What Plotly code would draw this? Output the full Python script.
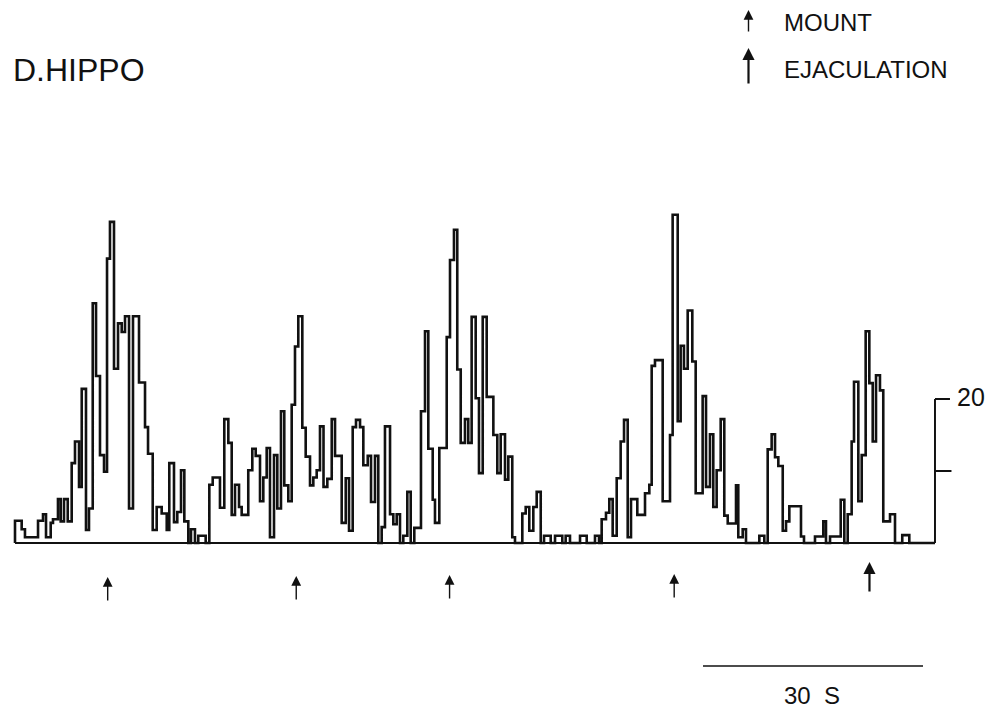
import plotly.graph_objects as go

# ---------------- data ----------------
# left edges (s) of each step of the rate histogram and its height (counts, scale bar = 20)
edges_s = [
    0.00, 0.91, 1.36, 3.14, 3.82, 4.23, 4.87, 5.18, 5.86, 6.23,
    6.68, 7.19, 7.73, 8.18, 8.73, 9.10, 9.68, 10.09, 10.60, 11.05,
    11.59, 12.14, 12.55, 12.95, 13.50, 14.05, 14.55, 15.00, 15.55, 16.09,
    16.91, 17.73, 18.14, 18.78, 19.32, 20.00,
    20.69, 21.04, 21.68, 22.13, 22.64, 23.09, 23.63, 24.00, 24.54, 24.99,
    26.00, 26.50, 26.96, 27.95, 28.54, 29.09, 29.55, 30.00, 30.55, 30.91,
    31.81, 32.36, 32.82, 33.41, 33.86, 34.32, 34.77, 35.32, 35.77, 36.27,
    36.72, 37.27, 37.73, 38.18, 38.63, 39.18, 39.64, 40.23, 40.68, 41.14,
    41.59,
    42.07, 42.59, 43.19, 43.64, 44.55, 45.10, 45.55, 46.05, 46.50, 47.05,
    47.50, 48.10, 48.55, 49.09, 49.54, 50.00, 50.45, 51.14, 51.59, 52.05,
    52.50, 52.95, 53.50, 53.96, 54.45, 55.36, 55.91, 56.36, 56.96, 57.27,
    57.86, 58.87, 59.32, 59.86, 60.31, 60.78, 61.36, 61.81, 62.27, 62.82,
    63.27, 63.78, 64.32, 65.23, 65.77, 66.23, 66.82, 67.27, 67.81, 68.18,
    69.18, 69.64, 70.13, 70.68, 71.14, 71.69, 72.14, 73.05, 73.64, 74.63,
    75.09, 75.68, 77.05, 77.96, 79.09, 79.64, 80.00, 80.59, 81.04, 81.50,
    82.05, 82.59, 83.05, 83.55,
    84.00, 84.86, 85.91, 86.50, 86.82, 87.27, 88.32, 89.32, 89.68, 90.37,
    90.77, 91.22, 91.73, 92.36, 92.82, 93.77, 94.23, 94.77, 95.22, 95.68,
    96.23, 96.72, 97.19, 98.32, 98.63, 99.23, 99.68, 101.50, 102.18, 102.64,
    103.18, 103.64, 104.09,
    104.69, 105.14, 105.59, 107.18, 107.59, 109.09, 110.22, 110.59, 111.14, 112.60,
    113.09, 113.55, 114.09, 114.41, 115.00, 115.46, 116.00, 116.50, 116.96, 117.41,
    117.95, 118.40, 119.32, 120.00, 120.99, 121.95,
]
rate = [
    3.1, 1.9, 0.8, 3.1, 4.0, 0.8, 2.8, 3.3, 6.1, 3.0,
    6.1, 3.0, 11.1, 14.1, 7.8, 21.4, 1.8, 4.8, 33.3, 23.2,
    12.2, 9.9, 39.5, 44.6, 24.2, 30.5, 29.3, 31.5, 4.8, 31.5,
    22.3, 16.1, 12.4, 1.8, 5.0, 4.1,
    1.8, 11.1, 2.9, 4.3, 10.1, 3.0, 0, 1.9, 0, 1.0,
    0, 8.1, 9.1, 4.9, 17.2, 13.9, 3.9, 8.1, 5.0, 3.9,
    10.1, 13.1, 12.1, 5.8, 9.1, 13.2, 0.8, 12.2, 4.8, 18.3,
    8.0, 5.8, 19.2, 27.3, 31.5, 16.0, 12.0, 8.0, 9.1, 10.1,
    16.2,
    7.8, 8.9, 17.2, 12.1, 2.8, 9.0, 1.7, 16.1, 17.1, 16.1,
    10.8, 12.1, 5.7, 12.1, 0, 2.2, 16.2, 4.0, 2.6, 4.0,
    0, 1.0, 7.1, 0, 2.1, 18.3, 29.4, 13.1, 6.0, 2.8,
    13.2, 28.6, 39.3, 43.5, 24.1, 13.9, 17.2, 13.9, 31.4, 20.1,
    9.7, 31.4, 20.3, 15.0, 9.7, 15.1, 8.8, 12.0, 0.8, 0,
    4.1, 5.0, 1.7, 5.0, 7.1, 0, 1.0, 0, 1.0, 0,
    1.0, 0, 1.0, 0, 1.0, 0, 3.3, 4.2, 6.1, 1.0,
    9.0, 14.1, 17.1, 0.8,
    6.1, 3.9, 6.9, 8.1, 24.6, 25.4, 5.8, 15.0, 45.6, 16.9,
    27.4, 24.2, 32.3, 25.2, 6.9, 20.4, 7.8, 15.1, 5.0, 10.1,
    17.2, 3.8, 2.7, 8.0, 0.8, 1.9, 0, 1.0, 0, 13.0,
    15.1, 11.9, 10.7,
    1.7, 3.0, 5.1, 0.9, 0, 0.9, 3.0, 0, 0.9, 6.0,
    0, 4.0, 14.1, 22.4, 5.8, 12.2, 29.4, 22.2, 14.1, 23.3,
    21.2, 3.0, 4.0, 0, 1.1, 0,
]
record_end_s = 125.45
mount_s = [12.64, 38.35, 59.26, 89.89]
ejaculation_s = [116.52]
scale_counts = 20
scale_time_s = 30
scale_time_start_s = 93.82

n = min(len(edges_s), len(rate))

# ---------------- geometry helpers (layout only) ----------------
W, H = 990, 712
PX_PER_S = 220 / 30.0
X0_PX = 15.0
BASE_PX = 543.0
PX_PER_COUNT = 7.2

def v_of_px(py):
    return (BASE_PX - py) / PX_PER_COUNT

def t_of_px(px):
    return (px - X0_PX) / PX_PER_S

x_range = [t_of_px(0), t_of_px(W)]
y_range = [v_of_px(H), v_of_px(0)]

# ---------------- build step outline ----------------
xs, ys = [edges_s[0]], [0]
for i in range(n):
    x0 = edges_s[i]
    x1 = edges_s[i + 1] if i + 1 < n else record_end_s
    xs += [x0, x1]
    ys += [rate[i], rate[i]]
xs.append(record_end_s)
ys.append(0)

INK = "#111111"
fig = go.Figure()
fig.add_trace(go.Scatter(x=[0, record_end_s], y=[0, 0], mode="lines",
                         line=dict(color=INK, width=2.2), hoverinfo="skip"))
fig.add_trace(go.Scatter(x=xs, y=ys, mode="lines",
                         line=dict(color=INK, width=2.6), hoverinfo="skip"))

# vertical scale bar (counts)
sb_x = record_end_s
tick_len = t_of_px(950) - t_of_px(935)
fig.add_trace(go.Scatter(x=[sb_x, sb_x], y=[0, scale_counts], mode="lines",
                         line=dict(color=INK, width=2), hoverinfo="skip"))
fig.add_trace(go.Scatter(x=[sb_x, sb_x + tick_len], y=[scale_counts, scale_counts], mode="lines",
                         line=dict(color=INK, width=2), hoverinfo="skip"))
fig.add_trace(go.Scatter(x=[sb_x, sb_x + tick_len * 1.1], y=[scale_counts / 2, scale_counts / 2],
                         mode="lines", line=dict(color=INK, width=2), hoverinfo="skip"))
# time scale bar
tb_y = v_of_px(666)
fig.add_trace(go.Scatter(x=[scale_time_start_s, scale_time_start_s + scale_time_s], y=[tb_y, tb_y],
                         mode="lines", line=dict(color=INK, width=1.6), hoverinfo="skip"))

FONT = "Liberation Sans, Arial, Helvetica, sans-serif"
ann = []
# mount arrows
mount_tip_px = [577, 576, 575, 574]
for t, tip in zip(mount_s, mount_tip_px):
    ann.append(dict(x=t, y=v_of_px(tip), xref="x", yref="y", text="", showarrow=True,
                    ax=0, ay=25, axref="pixel", ayref="pixel", arrowhead=2, arrowsize=1.4,
                    arrowwidth=1.4, arrowcolor=INK, standoff=0, startstandoff=0))
for t in ejaculation_s:
    ann.append(dict(x=t, y=v_of_px(562), xref="x", yref="y", text="", showarrow=True,
                    ax=0, ay=31, axref="pixel", ayref="pixel", arrowhead=2, arrowsize=1.1,
                    arrowwidth=2.2, arrowcolor=INK, standoff=0, startstandoff=0))
# legend arrows
ann.append(dict(x=748.5 / W, y=1 - 10 / H, xref="paper", yref="paper", text="", showarrow=True,
                ax=0, ay=23, arrowhead=2, arrowsize=1.4, arrowwidth=1.4, arrowcolor=INK,
                standoff=0, startstandoff=0))
ann.append(dict(x=748.5 / W, y=1 - 48 / H, xref="paper", yref="paper", text="", showarrow=True,
                ax=0, ay=37, arrowhead=2, arrowsize=1.1, arrowwidth=2.2, arrowcolor=INK,
                standoff=0, startstandoff=0))

def label(text, xpx, ypx, size, anchor="left"):
    return dict(x=xpx / W, y=1 - ypx / H, xref="paper", yref="paper", text=text,
                showarrow=False, xanchor=anchor, yanchor="middle",
                font=dict(family=FONT, size=size, color=INK))

ann.append(label("D.HIPPO", 11, 70, 32))
ann.append(label("MOUNT", 782, 22, 24))
ann.append(label("EJACULATION", 782, 70, 24))
ann.append(label(str(scale_counts), 955, 397, 25))
ann.append(label(f"{scale_time_s}\u00a0\u00a0S", 812, 695, 24, anchor="center"))

fig.update_layout(
    width=W, height=H, margin=dict(l=0, r=0, t=0, b=0),
    paper_bgcolor="white", plot_bgcolor="white", showlegend=False,
    xaxis=dict(range=x_range, visible=False, fixedrange=True),
    yaxis=dict(range=y_range, visible=False, fixedrange=True),
    annotations=ann,
)

fig.write_html("out.html", config={"displayModeBar": False})
